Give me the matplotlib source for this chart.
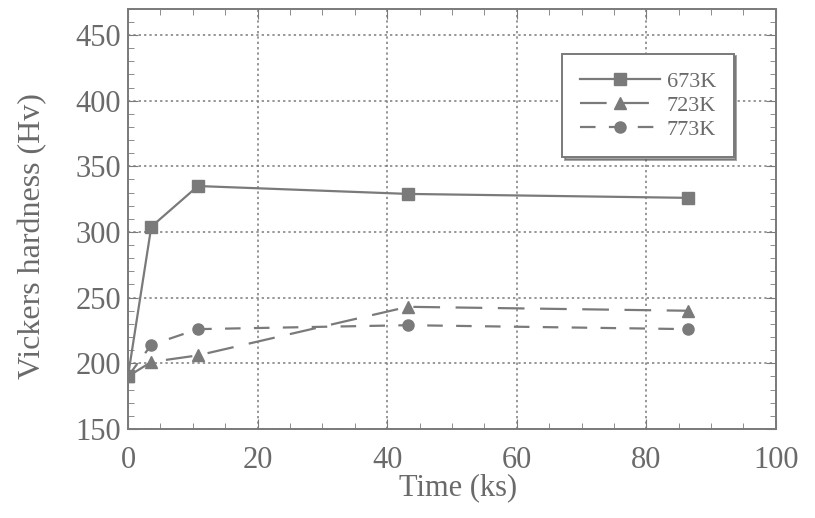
import matplotlib
matplotlib.use('Agg')
import matplotlib.pyplot as plt
from matplotlib.ticker import MultipleLocator

# Aging time (ks) and hardness (Hv)
time_ks = [0, 3.6, 10.8, 43.2, 86.4]
hv_673 = [190, 304, 335, 329, 326]
hv_723 = [190, 201, 206, 243, 240]
hv_773 = [190, 214, 226, 229, 226]

grey = '#7a7a7a'
text_grey = '#6a6a6a'
plt.rcParams['font.family'] = ['Liberation Serif', 'DejaVu Serif']

fig = plt.figure(figsize=(8.15, 5.18), dpi=100)
ax = fig.add_axes([0.157, 0.172, 0.795, 0.811])

ax.plot(time_ks, hv_673, '-', color=grey, lw=1.6, marker='s', ms=8, label='673K')
ax.plot(time_ks, hv_723, '-', color=grey, lw=1.6, marker='^', ms=8,
        dashes=(12, 7), label='723K')
ax.plot(time_ks, hv_773, '-', color=grey, lw=1.6, marker='o', ms=8,
        dashes=(7, 6), label='773K')

ax.set_xlim(0, 100)
ax.set_ylim(150, 470)
ax.xaxis.set_major_locator(MultipleLocator(20))
ax.xaxis.set_minor_locator(MultipleLocator(5))
ax.yaxis.set_major_locator(MultipleLocator(50))
ax.yaxis.set_minor_locator(MultipleLocator(10))
ax.tick_params(which='both', direction='in', top=True, right=True, color=grey,
               labelcolor=text_grey, labelsize=22)
ax.tick_params(which='major', length=7)
ax.tick_params(which='minor', length=4)
ax.tick_params(axis='x', which='major', pad=12)
ax.tick_params(axis='y', which='major', pad=5)
for s in ax.spines.values():
    s.set_color(grey)
    s.set_linewidth(1.4)
ax.grid(True, which='major', linestyle=(0, (1.5, 2)), color=grey, lw=1.1)

ax.set_xlabel('Time (ks)', fontsize=22, color=text_grey)
ax.xaxis.set_label_coords(0.51, -0.105)
ax.set_ylabel('Vickers hardness (Hv)', fontsize=23, color=text_grey)
ax.yaxis.set_label_coords(-0.125, 0.46)

leg = ax.legend(loc='upper right', bbox_to_anchor=(0.952, 0.92), fontsize=16,
                handlelength=3.6, frameon=True, fancybox=False, shadow=True,
                borderpad=0.8, labelspacing=0.15, handletextpad=0.3)
leg.get_frame().set_edgecolor(grey)
leg.get_frame().set_linewidth(1.4)
for t in leg.get_texts():
    t.set_color(text_grey)

fig.savefig('out.png', dpi=100)
